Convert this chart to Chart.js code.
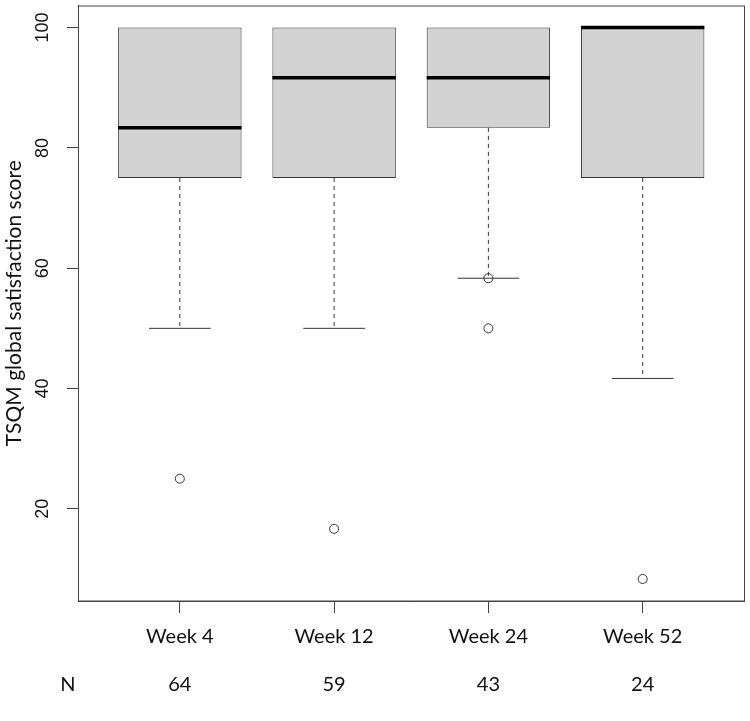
<!DOCTYPE html>
<html>
<head>
<meta charset="utf-8">
<script src="https://cdn.jsdelivr.net/npm/chart.js@4/dist/chart.umd.min.js"></script>
<style>
  body { margin: 0; background: #fff; }
  canvas { display: block; }
</style>
</head>
<body>
<canvas id="boxChart" width="750" height="721"></canvas>
<script>
// data
const weeks = ["Week 4", "Week 12", "Week 24", "Week 52"];
const nCounts = [64, 59, 43, 24];
const q1 = [75, 75, 83.33, 75];
const median = [83.33, 91.67, 91.67, 100];
const q3 = [100, 100, 100, 100];
const whiskerLow = [50, 50, 58.33, 41.67];
const whiskerHigh = [100, 100, 100, 100];
const outlierGroup = [1, 2, 3, 3, 4];
const outlierValue = [25, 16.67, 58.33, 50, 8.33];
const yTicks = [20, 40, 60, 80, 100];

const positions = weeks.map((w, i) => i + 1);
const lineColor = "#333";

// whiskers go under the boxes, medians + frame on top
const boxParts = {
    id: "boxParts",
    beforeDatasetsDraw(chart) {
        const c = chart.ctx;
        const y = chart.scales.y;
        const meta = chart.getDatasetMeta(1);
        c.save();
        c.strokeStyle = lineColor;
        c.lineWidth = 1;
        meta.data.forEach((bar, i) => {
            const half = bar.width / 4;
            if (whiskerLow[i] < q1[i]) {
                c.setLineDash([4, 4]);
                c.beginPath();
                c.moveTo(bar.x, y.getPixelForValue(q1[i]));
                c.lineTo(bar.x, y.getPixelForValue(whiskerLow[i]));
                c.stroke();
                c.setLineDash([]);
                c.beginPath();
                c.moveTo(bar.x - half, y.getPixelForValue(whiskerLow[i]));
                c.lineTo(bar.x + half, y.getPixelForValue(whiskerLow[i]));
                c.stroke();
            }
            if (whiskerHigh[i] > q3[i]) {
                c.setLineDash([4, 4]);
                c.beginPath();
                c.moveTo(bar.x, y.getPixelForValue(q3[i]));
                c.lineTo(bar.x, y.getPixelForValue(whiskerHigh[i]));
                c.stroke();
                c.setLineDash([]);
                c.beginPath();
                c.moveTo(bar.x - half, y.getPixelForValue(whiskerHigh[i]));
                c.lineTo(bar.x + half, y.getPixelForValue(whiskerHigh[i]));
                c.stroke();
            }
        });
        c.restore();
    },
    afterDatasetDraw(chart, args) {
        if (args.index !== 1) return;
        const c = chart.ctx;
        const y = chart.scales.y;
        c.save();
        c.strokeStyle = "#000";
        c.lineWidth = 3.5;
        args.meta.data.forEach((bar, i) => {
            const py = y.getPixelForValue(median[i]);
            c.beginPath();
            c.moveTo(bar.x - bar.width / 2, py);
            c.lineTo(bar.x + bar.width / 2, py);
            c.stroke();
        });
        c.restore();
    },
    afterDraw(chart) {
        const c = chart.ctx;
        const a = chart.chartArea;
        const x = chart.scales.x;
        c.save();
        c.strokeStyle = "#444";
        c.lineWidth = 1;
        c.strokeRect(a.left + 0.5, a.top + 0.5, a.right - a.left - 0.5, a.bottom - a.top - 0.5);
        c.fillStyle = "#111";
        c.font = "20px Lato";
        c.textAlign = "center";
        c.textBaseline = "middle";
        c.fillText("N", a.left - 10, x.top + 12 + 24 + 48);
        c.restore();
    }
};

const noPad = (s) => { s.paddingTop = 0; s.paddingBottom = 0; s.paddingLeft = 0; s.paddingRight = 0; };

new Chart(document.getElementById("boxChart"), {
    type: "bar",
    data: {
        datasets: [
            {
                type: "scatter",
                order: 1,
                data: outlierGroup.map((g, i) => ({ x: g, y: outlierValue[i] })),
                pointStyle: "circle",
                pointRadius: 4.5,
                pointBorderWidth: 1,
                pointBorderColor: lineColor,
                pointBackgroundColor: "rgba(0,0,0,0)",
            },
            {
                type: "bar",
                order: 2,
                data: positions.map((p, i) => ({ x: p, y: [q1[i], q3[i]] })),
                backgroundColor: "#d3d3d3",
                borderColor: lineColor,
                borderWidth: 1,
                borderSkipped: false,
                barPercentage: 1,
                categoryPercentage: 0.8,
            },
        ],
    },
    options: {
        responsive: false,
        animation: false,
        devicePixelRatio: 1,
        events: [],
        layout: { padding: { top: 3, right: 5, left: 0, bottom: 0 } },
        plugins: {
            legend: { display: false },
            tooltip: { enabled: false },
        },
        scales: {
            x: {
                type: "linear",
                offset: false,
                min: 0.34,
                max: 4.66,
                afterBuildTicks: (s) => { s.ticks = positions.map((v) => ({ value: v })); },
                afterFit: (s) => { s.height = 120; noPad(s); },
                grid: { offset: false, drawOnChartArea: false, tickLength: 12, color: "#444" },
                border: { display: true, color: "#444" },
                ticks: {
                    padding: 0,
                    color: "#111",
                    font: { family: "Lato", size: 20, lineHeight: "48px" },
                    callback: (v) => [weeks[v - 1], String(nCounts[v - 1])],
                    maxRotation: 0,
                    autoSkip: false,
                },
            },
            y: {
                min: 4.67,
                max: 103.67,
                afterBuildTicks: (s) => { s.ticks = yTicks.map((v) => ({ value: v })); },
                afterFit: (s) => { s.width = 78; noPad(s); },
                grid: { drawOnChartArea: false, tickLength: 11, color: "#444" },
                border: { display: true, color: "#444" },
                ticks: {
                    minRotation: 90,
                    maxRotation: 90,
                    crossAlign: "center",
                    padding: 9,
                    color: "#111",
                    font: { family: "'Liberation Sans', Arial", size: 18 },
                },
                title: {
                    display: true,
                    text: "TSQM global satisfaction score",
                    color: "#111",
                    font: { family: "Lato", size: 21 },
                    padding: { top: 2, bottom: 0 },
                },
            },
        },
    },
    plugins: [boxParts],
});
</script>
</body>
</html>
